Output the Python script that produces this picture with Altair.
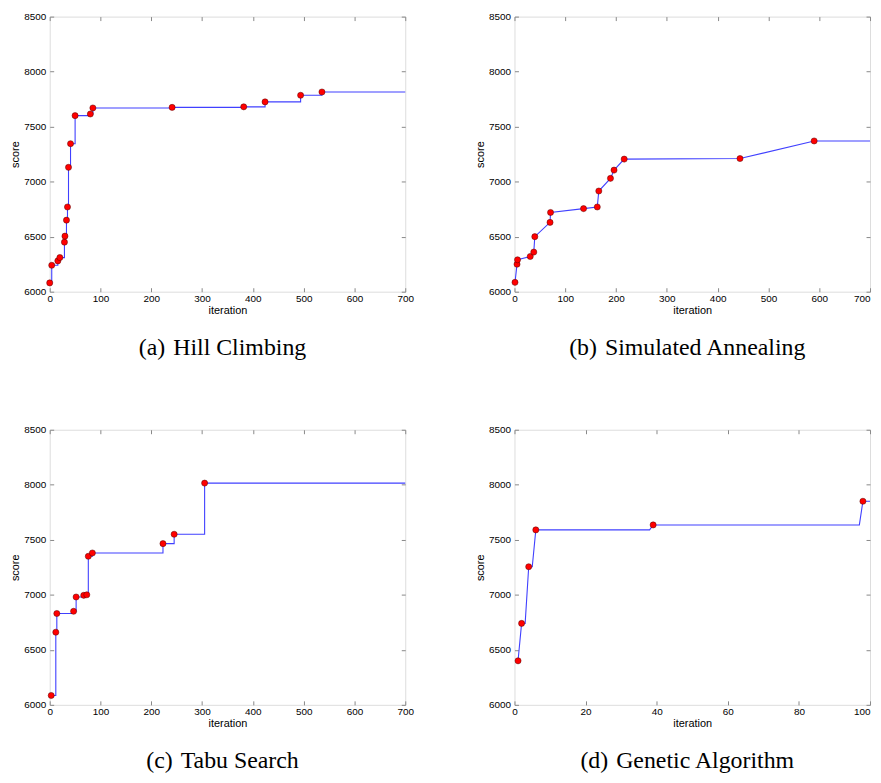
import altair as alt
import pandas as pd

# (a) Hill Climbing
hc_iter = [0, 4, 16, 20, 29, 30, 33, 35, 37, 41, 50, 80, 85, 241, 382, 424, 494, 536]
hc_score = [6080, 6240, 6280, 6310, 6450, 6505, 6650, 6770, 7130, 7345, 7600, 7615, 7670, 7675, 7680, 7725, 7785, 7815]
hc_last_iter = 700

# (b) Simulated Annealing
sa_iter = [1, 5, 6, 31, 38, 40, 70, 71, 136, 163, 166, 189, 196, 216, 444, 590]
sa_score = [6085, 6250, 6290, 6320, 6360, 6500, 6630, 6720, 6755, 6770, 6915, 7030, 7105, 7205, 7210, 7370]
sa_last_iter = 700

# (c) Tabu Search
ts_iter = [3, 12, 14, 47, 52, 67, 73, 76, 84, 223, 245, 305]
ts_score = [6085, 6660, 6830, 6850, 6980, 6995, 7000, 7350, 7380, 7465, 7550, 8015]
ts_last_iter = 700

# (d) Genetic Algorithm (generations)
ga_iter = [1, 2, 4, 6, 39, 98]
ga_score = [6400, 6740, 7255, 7590, 7635, 7850]
ga_line_iter = [1, 2, 3, 4, 5, 6, 38, 39, 97, 98, 100]
ga_line_score = [6400, 6740, 6740, 7255, 7255, 7590, 7590, 7635, 7635, 7850, 7850]

captions = ["(a) \u200aHill Climbing", "(b) \u200aSimulated Annealing",
            "(c) \u200aTabu Search", "(d) \u200aGenetic Algorithm"]

y_ticks = [6000, 6500, 7000, 7500, 8000, 8500]

W, H = 358, 277


def panel(line_x, line_y, pts_x, pts_y, xmax, xstep, caption, interp, right_col):
    line_df = pd.DataFrame({"iteration": line_x, "score": line_y})
    pts_df = pd.DataFrame({"iteration": pts_x, "score": pts_y})
    xticks = list(range(0, xmax + 1, xstep))
    xscale = alt.Scale(domain=[0, xmax], nice=False, zero=False)
    yscale = alt.Scale(domain=[6000, 8500], nice=False, zero=False)
    common = dict(domain=False, tickSize=4, format="d", grid=False,
                  minExtent=0, titleFontWeight="normal", labelFlush=False)
    xextra = {}
    if right_col:
        xextra["labelAlign"] = {"condition": {"test": f"datum.value == {xmax}", "value": "right"},
                                "value": "center"}
    line = alt.Chart(line_df).mark_line(
        interpolate=interp, color="#4040ff", strokeWidth=1.1
    ).encode(
        x=alt.X("iteration:Q", scale=xscale,
                axis=alt.Axis(values=xticks, orient="bottom", title="iteration", offset=-4,
                              labelPadding=2, titlePadding=1, **xextra, **common)),
        y=alt.Y("score:Q", scale=yscale,
                axis=alt.Axis(values=y_ticks, orient="left", title="score", offset=-4,
                              labelPadding=4, titlePadding=3, **common)),
    )
    # inward ticks along the top and right edges
    pts = alt.Chart(pts_df).mark_circle(
        color="#ff0000", size=38, opacity=1, stroke="#550000", strokeWidth=0.5
    ).encode(
        x=alt.X("iteration:Q", scale=xscale,
                axis=alt.Axis(values=xticks, orient="bottom", title=None, labels=False,
                              offset=-H, maxExtent=0, **common)),
        y=alt.Y("score:Q", scale=yscale,
                axis=alt.Axis(values=y_ticks, orient="left", title=None, labels=False,
                              offset=-W, maxExtent=0, **common)),
    )
    cap = alt.Chart(alt.Data(values=[{"c": caption}])).mark_text(
        font="Liberation Serif", fontSize=24, color="black",
        align="center", baseline="middle"
    ).encode(
        text="c:N", x=alt.value(174), y=alt.value(334)
    )
    return alt.layer(line, pts, cap).resolve_axis(
        x="independent", y="independent"
    ).properties(width=W, height=H)


pa = panel(hc_iter + [hc_last_iter], hc_score + [hc_score[-1]], hc_iter, hc_score,
           700, 100, captions[0], "step-after", False)
pb = panel(sa_iter + [sa_last_iter], sa_score + [sa_score[-1]], sa_iter, sa_score,
           700, 100, captions[1], "linear", True)
pc = panel(ts_iter + [ts_last_iter], ts_score + [ts_score[-1]], ts_iter, ts_score,
           700, 100, captions[2], "step-after", False)
pd_ = panel(ga_line_iter, ga_line_score, ga_iter, ga_score,
            100, 20, captions[3], "linear", True)

chart = alt.concat(
    pa, pb, pc, pd_, columns=2, spacing={"row": 139, "column": 110}, bounds="flush"
).properties(
    padding={"left": 1, "top": 0, "right": 0, "bottom": 0}
).configure_view(
    stroke="#333333", strokeWidth=1.2
).configure_axis(
    labelFont="DejaVu Sans", labelFontSize=9, labelColor="black",
    titleFont="DejaVu Sans", titleFontSize=9.5, titleFontWeight="normal", titleColor="black",
    tickColor="#333333", tickWidth=1
).configure(background="white")

chart.save("out.html", embed_options={"renderer": "svg", "actions": False})
